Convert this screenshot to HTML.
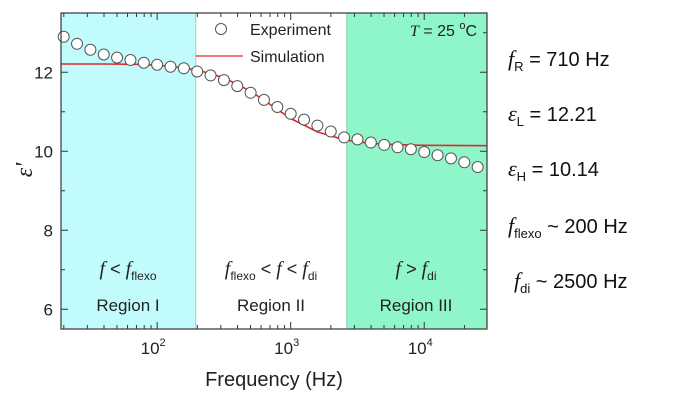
<!DOCTYPE html>
<html><head><meta charset="utf-8"><style>
body{margin:0;background:#fff;width:675px;height:403px;overflow:hidden;font-family:"Liberation Sans",sans-serif}
.ann{position:absolute;left:508px;font-size:20px;color:#111;font-family:"Liberation Sans",sans-serif}
.ann i{font-family:"Liberation Serif",serif;font-size:22px}
.ann sub{font-size:13px}
</style></head><body>
<svg id="chart" width="675" height="403" style="position:absolute;left:0;top:0" xmlns="http://www.w3.org/2000/svg"></svg>
<div class="ann" style="top:46px"><i>f</i><sub>R</sub> = 710 Hz</div>
<div class="ann" style="top:101px"><i>ε</i><sub>L</sub> = 12.21</div>
<div class="ann" style="top:156px"><i>ε</i><sub>H</sub> = 10.14</div>
<div class="ann" style="top:213px"><i>f</i><sub>flexo</sub> ~ 200 Hz</div>
<div class="ann" style="top:268px;left:514px"><i>f</i><sub>di</sub> ~ 2500 Hz</div>
<script>
const expLogF=[1.3,1.4,1.5,1.6,1.7,1.8,1.9,2.0,2.1,2.2,2.3,2.4,2.5,2.6,2.7,2.8,2.9,3.0,3.1,3.2,3.3,3.4,3.5,3.6,3.7,3.8,3.9,4.0,4.1,4.2,4.3,4.4];
const expVals=[12.9,12.72,12.57,12.45,12.37,12.31,12.24,12.19,12.14,12.1,12.02,11.92,11.8,11.65,11.48,11.3,11.12,10.95,10.8,10.65,10.5,10.35,10.3,10.22,10.16,10.1,10.05,9.98,9.9,9.82,9.72,9.6];
const simLogF=[1.28,1.6,1.9,2.1,2.3,2.5,2.7,2.85,3.0,3.2,3.4,3.6,3.8,4.0,4.47];
const simVals=[12.21,12.21,12.2,12.15,12.06,11.86,11.52,11.175,10.83,10.49,10.29,10.2,10.165,10.15,10.14];
const xTicks=[2,3,4];
const yTicks=[6,8,10,12];
const regionBounds=[1.28,2.29,3.42,4.47];

const svg=document.getElementById('chart');
const NS='http://www.w3.org/2000/svg';
const L=61,R=487,T=13,B=329;
const xMin=1.28,xMax=4.47,yMin=5.5,yMax=13.5;
const X=v=>L+(v-xMin)/(xMax-xMin)*(R-L);
const Y=v=>B-(v-yMin)/(yMax-yMin)*(B-T);
function mk(tag,attrs,parent){const e=document.createElementNS(NS,tag);for(const k in attrs)e.setAttribute(k,attrs[k]);(parent||svg).appendChild(e);return e;}

let r1=mk('rect',{x:X(regionBounds[0]),y:T,width:X(regionBounds[1])-X(regionBounds[0]),height:B-T,fill:'#c2fbfb',stroke:'#8aa',"stroke-width":0.6});


let r3=mk('rect',{x:X(regionBounds[2]),y:T,width:X(regionBounds[3])-X(regionBounds[2]),height:B-T,fill:'#8ff6c9',stroke:'#6a9',"stroke-width":0.6});



// ticks
const tk=mk('g',{stroke:'#333',"stroke-width":1});


for(let d=1;d<=4;d++)for(let m=1;m<10;m++){const lv=d+Math.log10(m);if(lv<xMin||lv>xMax)continue;const x=X(lv);const len=m==1?7:4;
mk('line',{x1:x,x2:x,y1:B,y2:B-len},tk);mk('line',{x1:x,x2:x,y1:T,y2:T+len},tk);}
for(let v=6;v<=13;v++){const y=Y(v);const len=v%2==0?7:4;mk('line',{x1:L,x2:L+len,y1:y,y2:y},tk);mk('line',{x1:R,x2:R-len,y1:y,y2:y},tk);}

xTicks.forEach(t=>{const g=mk('text',{x:X(t)-4,y:B+25,"font-size":17,"text-anchor":"middle",fill:'#222'});g.textContent='10';
const s=mk('tspan',{dy:-8,"font-size":11},g);s.textContent=t;

});
yTicks.forEach(t=>{const g=mk('text',{x:L-8,y:Y(t)+6,"font-size":17,"text-anchor":"end",fill:'#222'});g.textContent=t;

});

// simulation line
let d='';simLogF.forEach((f,i)=>{d+=(i?'L':'M')+X(f).toFixed(1)+','+Y(simVals[i]).toFixed(1);});
const sim=mk('path',{d:d,fill:'none',stroke:'#e8262a',"stroke-width":1.6});


expLogF.forEach((f,i)=>{const c=mk('circle',{cx:X(f),cy:Y(expVals[i]),r:5.5,fill:'#fff',stroke:'#555',"stroke-width":1});

});

const frame=mk('rect',{x:L,y:T,width:R-L,height:B-T,fill:'none',stroke:'#444',"stroke-width":1.3});



// legend
const lg=mk('g',{});


mk('circle',{cx:221,cy:29,r:5.5,fill:'#fff',stroke:'#555'},lg);
let t1=mk('text',{x:250,y:35,"font-size":16,fill:'#222'},lg);t1.textContent='Experiment';
mk('line',{x1:196,x2:243,y1:56,y2:56,stroke:'#e8262a',"stroke-width":1.3},lg);
let t2=mk('text',{x:250,y:62,"font-size":16,fill:'#222'},lg);t2.textContent='Simulation';
let tt=mk('text',{x:410,y:36,"font-size":16,fill:'#222'});


tt.innerHTML='<tspan font-style="italic" font-family="Liberation Serif">T</tspan> = 25 <tspan dy="-7" font-size="11">o</tspan><tspan dy="7">C</tspan>';

// region labels
function region(cx,html,name,label){const a=mk('text',{x:cx,y:275,"font-size":18,"text-anchor":"middle",fill:'#222'});a.innerHTML=html;


const b=mk('text',{x:cx,y:311,"font-size":17,"text-anchor":"middle",fill:'#222'});b.textContent=label;

}
const fi='<tspan font-style="italic" font-family="Liberation Serif" font-size="20">f</tspan>';
region(128,fi+' &lt; '+fi+'<tspan dy="5" font-size="12">flexo</tspan>','region-i','Region I');
region(271,fi+'<tspan dy="5" font-size="12">flexo</tspan><tspan dy="-5"> &lt; </tspan>'+fi+' &lt; '+fi+'<tspan dy="5" font-size="12">di</tspan>','region-ii','Region II');
region(416,fi+' &gt; '+fi+'<tspan dy="5" font-size="12">di</tspan>','region-iii','Region III');

const xt=mk('text',{x:274,y:386,"font-size":20,"text-anchor":"middle",fill:'#222'});xt.textContent='Frequency (Hz)';


const yt=mk('text',{x:0,y:0,"font-size":24,"text-anchor":"middle",fill:'#222',"font-style":"italic","font-family":"Liberation Serif",transform:'translate(32,170) rotate(-90)'});yt.textContent="ε'";


</script>
</body></html>
